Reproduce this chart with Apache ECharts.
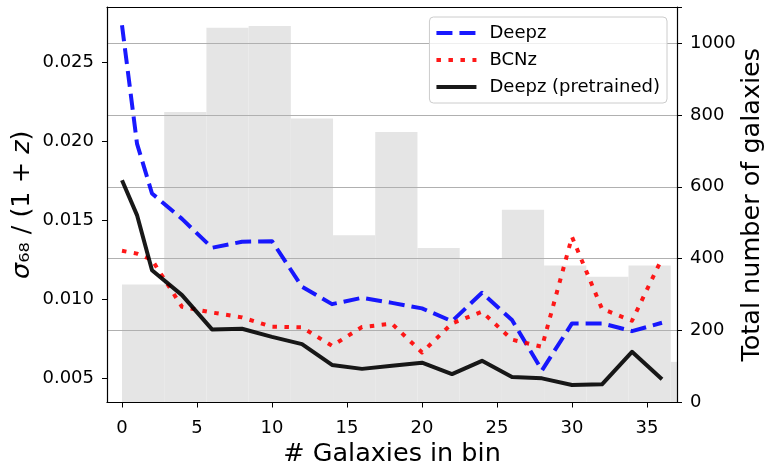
<!DOCTYPE html>
<html>
<head>
<meta charset="utf-8">
<script src="https://cdn.jsdelivr.net/npm/echarts@6/dist/echarts.min.js"></script>
<style>
  html, body { margin: 0; padding: 0; background: #fff; }
  #main { width: 769px; height: 462px; }
</style>
</head>
<body>
<div id="main"></div>
<script>
  // x positions of the sigma_68 curves
  var xValues = [0, 1, 2, 4, 6, 8, 10, 12, 14, 16, 18, 20, 22, 24, 26, 28, 30, 32, 34, 36];
  var deepz = [0.02736, 0.01987, 0.01671, 0.0151, 0.01327, 0.01365, 0.01369, 0.0108, 0.0097, 0.0101,
               0.00978, 0.00943, 0.00862, 0.01042, 0.00869, 0.00551, 0.00848, 0.00848, 0.00799, 0.00852];
  var bcnz = [0.01308, 0.0129, 0.0125, 0.00953, 0.00917, 0.00886, 0.00827, 0.00823, 0.00706, 0.00825,
              0.00846, 0.00664, 0.00848, 0.00922, 0.00745, 0.0070, 0.01396, 0.0094, 0.00865, 0.0126];
  var deepzPre = [0.01755, 0.01534, 0.01185, 0.01027, 0.0081, 0.00814, 0.00763, 0.00717, 0.00585, 0.0056,
                  0.0058, 0.00599, 0.00527, 0.00611, 0.00508, 0.0050, 0.00458, 0.00462, 0.00668, 0.00494];

  // histogram of galaxies (right axis)
  var binEdges = [0, 2.814, 5.628, 8.442, 11.256, 14.07, 16.884, 19.698, 22.512, 25.326, 28.14, 30.954, 33.768, 36.582, 39.396];
  var binCounts = [328, 808, 1042, 1047, 790, 465, 752, 430, 402, 536, 381, 350, 381, 113];

  var leftTicks = [0.005, 0.010, 0.015, 0.020, 0.025];
  var xTicks = [0, 5, 10, 15, 20, 25, 30, 35];

  var font = "'DejaVu Sans', sans-serif";
  var blue = 'rgba(0,0,255,0.9)';
  var red = 'rgba(255,0,0,0.9)';
  var black = 'rgba(0,0,0,0.9)';
  var dashBlue = [16, 7];
  var dotRed = [4.5, 7.5];

  var chart = echarts.init(document.getElementById('main'), null, { renderer: 'canvas' });

  function pairs(ys) {
    return xValues.map(function (x, i) { return [x, ys[i]]; });
  }

  var histData = binCounts.map(function (c, i) { return [binEdges[i], binEdges[i + 1], c]; });

  var option = {
    animation: false,
    backgroundColor: '#fff',
    textStyle: { fontFamily: font },
    grid: { left: 107, right: 92, top: 7, bottom: 59.5, containLabel: false, outerBoundsMode: 'none' },
    legend: {
      orient: 'vertical',
      right: 102,
      top: 17,
      data: [
        { name: 'Deepz', itemStyle: { opacity: 0 }, lineStyle: { color: blue, width: 4, type: dashBlue } },
        { name: 'BCNz', itemStyle: { opacity: 0 }, lineStyle: { color: red, width: 4, type: dotRed } },
        { name: 'Deepz (pretrained)', itemStyle: { opacity: 0 }, lineStyle: { color: black, width: 4, type: 'solid' } }
      ],
      itemWidth: 40,
      itemHeight: 14,
      itemGap: 7,
      padding: [6, 7, 6, 5],
      backgroundColor: 'rgba(255,255,255,0.8)',
      borderColor: '#cccccc',
      borderWidth: 1,
      borderRadius: 4,
      textStyle: { fontFamily: font, fontSize: 18, color: '#000', lineHeight: 20, padding: [0, 0, 0, 8] },
      z: 10
    },
    xAxis: [{
      type: 'value',
      min: -1,
      max: 37,
      z: 5,
      name: '# Galaxies in bin',
      nameLocation: 'middle',
      nameGap: 39,
      nameMoveOverlap: false,
      nameTextStyle: { fontFamily: font, fontSize: 25.5, color: '#000' },
      axisLine: { onZero: false, lineStyle: { color: '#000', width: 1.2 } },
      axisTick: { customValues: xTicks, length: 5, lineStyle: { color: '#000', width: 1 } },
      axisLabel: { customValues: xTicks, margin: 17, fontSize: 18, fontFamily: font, color: '#000' },
      splitLine: { show: false }
    }, {
      type: 'value',
      position: 'top',
      min: -1,
      max: 37,
      z: 10,
      axisLine: { show: true, onZero: false, lineStyle: { color: '#000', width: 1.2 } },
      axisTick: { show: false },
      axisLabel: { show: false },
      splitLine: { show: false }
    }],
    yAxis: [{
      type: 'value',
      position: 'left',
      min: 0.00347,
      max: 0.02852,
      z: 5,
      name: '{i|σ}₆₈ / (1 + {i|z})',
      nameLocation: 'middle',
      nameGap: 72,
      nameMoveOverlap: false,
      nameTextStyle: {
        fontFamily: font, fontSize: 25.5, color: '#000',
        rich: { i: { fontFamily: font, fontSize: 25.5, fontStyle: 'italic', color: '#000' } }
      },
      axisLine: { show: true, onZero: false, lineStyle: { color: '#000', width: 1.2 } },
      axisTick: { customValues: leftTicks, length: 5, lineStyle: { color: '#000', width: 1 } },
      axisLabel: {
        customValues: leftTicks, margin: 13, fontSize: 18, fontFamily: font, color: '#000',
        formatter: function (v) { return v.toFixed(3); }
      },
      splitLine: { show: false }
    }, {
      type: 'value',
      position: 'right',
      min: 0,
      max: 1100,
      interval: 200,
      z: 3,
      name: 'Total number of galaxies',
      nameLocation: 'middle',
      nameGap: 62,
      nameMoveOverlap: false,
      nameTextStyle: { fontFamily: font, fontSize: 25.5, color: '#000' },
      axisLine: { show: true, onZero: false, lineStyle: { color: '#000', width: 1.2 } },
      axisTick: { show: true, length: 5, lineStyle: { color: '#000', width: 1 } },
      axisLabel: {
        margin: 13, fontSize: 18, fontFamily: font, color: '#000',
        formatter: function (v) { return v <= 1000 ? String(v) : ''; }
      },
      splitLine: { show: true, lineStyle: { color: '#b0b0b0', width: 1 } }
    }],
    series: [{
      type: 'custom',
      xAxisIndex: 0,
      yAxisIndex: 1,
      z: 2,
      silent: true,
      data: histData,
      renderItem: function (params, api) {
        var p0 = api.coord([api.value(0), api.value(2)]);
        var p1 = api.coord([api.value(1), 0]);
        var cs = params.coordSys;
        var rect = echarts.graphic.clipRectByRect(
          { x: p0[0], y: p0[1], width: p1[0] - p0[0], height: p1[1] - p0[1] },
          { x: cs.x, y: cs.y, width: cs.width, height: cs.height }
        );
        if (!rect) return;
        return { type: 'rect', shape: rect, style: { fill: '#e5e5e5' } };
      }
    }, {
      name: 'Deepz',
      type: 'line',
      xAxisIndex: 0,
      yAxisIndex: 0,
      data: pairs(deepz),
      symbol: 'none',
      z: 6,
      silent: true,
      itemStyle: { color: blue },
      lineStyle: { color: blue, width: 4, type: dashBlue, join: 'round' }
    }, {
      name: 'BCNz',
      type: 'line',
      xAxisIndex: 0,
      yAxisIndex: 0,
      data: pairs(bcnz),
      symbol: 'none',
      z: 6,
      silent: true,
      itemStyle: { color: red },
      lineStyle: { color: red, width: 4, type: dotRed, join: 'round' }
    }, {
      name: 'Deepz (pretrained)',
      type: 'line',
      xAxisIndex: 0,
      yAxisIndex: 0,
      data: pairs(deepzPre),
      symbol: 'none',
      z: 6,
      silent: true,
      itemStyle: { color: black },
      lineStyle: { color: black, width: 4, join: 'round' }
    }]
  };

  chart.setOption(option);
</script>
</body>
</html>
